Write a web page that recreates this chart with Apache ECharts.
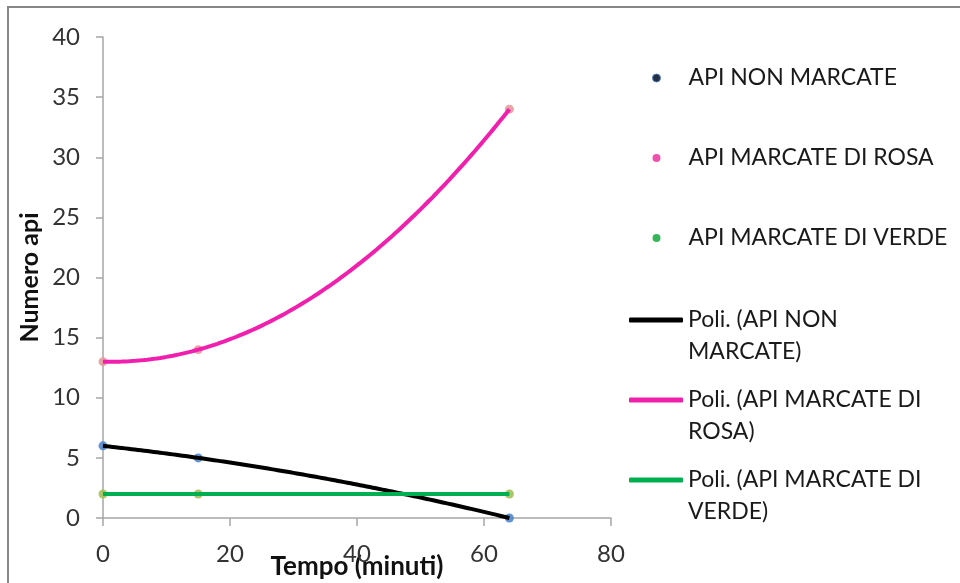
<!DOCTYPE html>
<html>
<head>
<meta charset="utf-8">
<script src="https://cdn.jsdelivr.net/npm/echarts@6/dist/echarts.min.js"></script>
<style>
  html, body { margin: 0; padding: 0; background: #fff; }
  #chart { width: 960px; height: 583px; }
</style>
</head>
<body>
<div id="chart"></div>
<script>
// Osservazioni: tempo (minuti) e numero di api contate
const tempi = [0, 15, 64];
const apiNonMarcate = [6, 5, 0];
const apiRosa = [13, 14, 34];
const apiVerde = [2, 2, 2];

const xTicks = [0, 20, 40, 60, 80];
const yTicks = [0, 5, 10, 15, 20, 25, 30, 35, 40];

const nomiPunti = ['API NON MARCATE', 'API MARCATE DI ROSA', 'API MARCATE DI VERDE'];
const nomiTrend = ['Poli. (API NON MARCATE)', 'Poli. (API MARCATE DI ROSA)', 'Poli. (API MARCATE DI VERDE)'];
// Testo della legenda su due righe (la riga vuota iniziale allinea l'icona alla prima riga)
const etichetteTrend = {
  'Poli. (API NON MARCATE)': '\nPoli. (API NON\nMARCATE)',
  'Poli. (API MARCATE DI ROSA)': '\nPoli. (API MARCATE DI\nROSA)',
  'Poli. (API MARCATE DI VERDE)': '\nPoli. (API MARCATE DI\nVERDE)'
};

// Linea di tendenza polinomiale di 2° grado (minimi quadrati)
function fitQuadratic(xs, ys) {
  const n = xs.length;
  let s = [0, 0, 0, 0, 0], t = [0, 0, 0];
  for (let i = 0; i < n; i++) {
    let p = 1;
    for (let k = 0; k <= 4; k++) { s[k] += p; if (k <= 2) t[k] += p * ys[i]; p *= xs[i]; }
  }
  const A = [[s[0], s[1], s[2], t[0]], [s[1], s[2], s[3], t[1]], [s[2], s[3], s[4], t[2]]];
  for (let c = 0; c < 3; c++) {
    let piv = c;
    for (let r = c + 1; r < 3; r++) if (Math.abs(A[r][c]) > Math.abs(A[piv][c])) piv = r;
    [A[c], A[piv]] = [A[piv], A[c]];
    if (Math.abs(A[c][c]) < 1e-12) continue;
    for (let r = 0; r < 3; r++) {
      if (r === c) continue;
      const f = A[r][c] / A[c][c];
      for (let k = c; k < 4; k++) A[r][k] -= f * A[c][k];
    }
  }
  const coef = A.map((row, i) => Math.abs(row[i]) < 1e-12 ? 0 : row[3] / row[i]);
  return x => coef[0] + coef[1] * x + coef[2] * x * x;
}

function trendPoints(xs, ys) {
  const f = fitQuadratic(xs, ys);
  const x0 = Math.min(...xs), x1 = Math.max(...xs);
  const pts = [];
  for (let x = x0; x <= x1; x += 0.5) pts.push([x, f(x)]);
  return pts;
}

const pairs = (xs, ys) => xs.map((x, i) => [x, ys[i]]);

const font = 'Lato, "Liberation Sans", sans-serif';
const chart = echarts.init(document.getElementById('chart'));

chart.setOption({
  animation: false,
  backgroundColor: '#ffffff',
  textStyle: { fontFamily: font },
  graphic: [{
    type: 'rect',
    shape: { x: 8, y: 7, width: 980, height: 600 },
    style: { fill: 'none', stroke: '#878787', lineWidth: 2 },
    silent: true
  }],
  grid: { left: 103, right: 349, top: 37, bottom: 65, outerBoundsMode: 'none' },
  xAxis: {
    type: 'value',
    min: xTicks[0], max: xTicks[xTicks.length - 1], interval: xTicks[1] - xTicks[0],
    name: 'Tempo (minuti)', nameLocation: 'middle', nameGap: 36, nameMoveOverlap: false,
    nameTextStyle: { fontFamily: font, fontWeight: 'bold', fontSize: 26, color: '#111' },
    axisLine: { lineStyle: { color: '#a6a6a6', width: 1.5 } },
    axisTick: { length: 8, lineStyle: { color: '#a6a6a6', width: 1.5 } },
    axisLabel: { fontSize: 24, color: '#333', margin: 24 },
    splitLine: { show: false }
  },
  yAxis: {
    type: 'value',
    min: yTicks[0], max: yTicks[yTicks.length - 1], interval: yTicks[1] - yTicks[0],
    name: 'Numero api', nameLocation: 'middle', nameGap: 61, nameMoveOverlap: false,
    nameTextStyle: { fontFamily: font, fontWeight: 'bold', fontSize: 25, color: '#111' },
    axisLine: { show: true, lineStyle: { color: '#a6a6a6', width: 1.5 } },
    axisTick: { show: true, length: 7, lineStyle: { color: '#a6a6a6', width: 1.5 } },
    axisLabel: { fontSize: 24, color: '#333', margin: 23 },
    splitLine: { show: false }
  },
  legend: [{
    orient: 'vertical', left: 652, top: 66, padding: 0,
    itemWidth: 8, itemHeight: 8, itemGap: 56,
    textStyle: { fontFamily: font, fontSize: 23, color: '#1a1a1a', lineHeight: 24, padding: [0, 0, 0, 23] },
    data: [
      { name: nomiPunti[0], icon: 'circle', itemStyle: { color: '#0c1730', borderColor: '#4f81bd', borderWidth: 1 } },
      { name: nomiPunti[1], icon: 'circle', itemStyle: { color: '#ec3fa3', borderWidth: 0 } },
      { name: nomiPunti[2], icon: 'circle', itemStyle: { color: '#20ad4a', borderWidth: 0 } }
    ]
  }, {
    orient: 'vertical', left: 629, top: 272, padding: 0,
    itemWidth: 54, itemHeight: 5, itemGap: -16,
    icon: 'roundRect',
    formatter: name => etichetteTrend[name],
    textStyle: { fontFamily: font, fontSize: 23, color: '#1a1a1a', lineHeight: 32 },
    data: nomiTrend
  }],
  series: [
    { name: nomiPunti[0], type: 'scatter', data: pairs(tempi, apiNonMarcate), symbolSize: 9, z: 2,
      itemStyle: { color: '#4f86cf', opacity: 0.9 } },
    { name: nomiPunti[1], type: 'scatter', data: pairs(tempi, apiRosa), symbolSize: 9, z: 2,
      itemStyle: { color: '#e69a9c', opacity: 0.9 } },
    { name: nomiPunti[2], type: 'scatter', data: pairs(tempi, apiVerde), symbolSize: 9, z: 2,
      itemStyle: { color: '#a4c05a', opacity: 0.9 } },
    { name: nomiTrend[0], type: 'line', data: trendPoints(tempi, apiNonMarcate), showSymbol: false, z: 3,
      color: '#000000', lineStyle: { color: '#000000', width: 4 } },
    { name: nomiTrend[1], type: 'line', data: trendPoints(tempi, apiRosa), showSymbol: false, z: 3,
      color: '#f01fae', lineStyle: { color: '#f01fae', width: 4 } },
    { name: nomiTrend[2], type: 'line', data: trendPoints(tempi, apiVerde), showSymbol: false, z: 3,
      color: '#00b050', lineStyle: { color: '#00b050', width: 4 } }
  ]
});
</script>
</body>
</html>
